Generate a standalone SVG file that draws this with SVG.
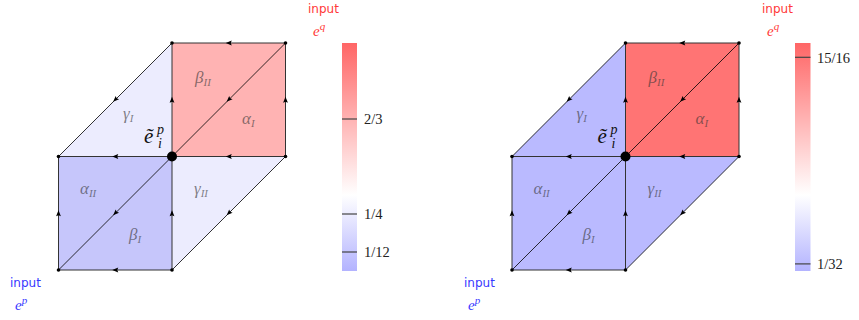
<svg xmlns="http://www.w3.org/2000/svg" width="859" height="320" viewBox="0 0 859 320">
<style>
.edge{fill:none;stroke:#333;stroke-width:1;marker-mid:url(#arr)}
.diag{fill:none;stroke:#000;stroke-width:0.8;marker-mid:url(#arr)}
.dot{fill:#000}
.lbl{font-family:'Liberation Serif',serif;font-style:italic;font-size:17px;fill:#333;fill-opacity:0.6}
.sub{font-size:11px}
.ep{font-family:'Liberation Serif',serif;font-style:italic;font-size:21px;fill:#111}
.tick{stroke:#444;stroke-width:1.2}
.tl{font-family:'Liberation Serif',serif;font-size:14.5px;fill:#222}
.in{font-family:'DejaVu Sans',sans-serif;font-size:12px}
.ev{font-family:'Liberation Serif',serif;font-style:italic;font-size:15px}
</style>
<defs>
<marker id="arr" markerUnits="userSpaceOnUse" markerWidth="8" markerHeight="8" viewBox="-4 -4 8 8" refX="0" refY="0" orient="auto">
<path d="M3,0 L-3,-2.4 L-2,0 L-3,2.4 Z" fill="#000"/>
</marker>
<linearGradient id="cb" x1="0" y1="0" x2="0" y2="1">
<stop offset="0" stop-color="#ff6666"/>
<stop offset="0.6667" stop-color="#ffffff"/>
<stop offset="1" stop-color="#b3b3ff"/>
</linearGradient>
</defs>

<!-- LEFT PANEL -->
<g id="panel-left" transform="translate(172,156.5)">
<g id="faces-left">
<path d="M0,0 L0,-113.5 L113.5,-113.5 L113.5,0 Z" fill="#ffb3b3"/>
<path d="M-113.5,0 L0,-113.5 L0,0 Z" fill="#ececfe"/>
<path d="M-113.5,0 L0,0 L0,113.5 L-113.5,113.5 Z" fill="#c6c6fb"/>
<path d="M0,0 L113.5,0 L0,113.5 Z" fill="#ececfe"/>
</g>
<g id="connectors-left">
<path class="edge" d="M113.5,-113.5 L56.75,-113.5 L0,-113.5"/>
<path class="edge" d="M113.5,0 L113.5,-56.75 L113.5,-113.5"/>
<path class="diag" d="M113.5,-113.5 L56.75,-56.75 L0,0"/>
<path class="edge" d="M0,0 L0,-56.75 L0,-113.5"/>
<path class="diag" d="M0,-113.5 L-56.75,-56.75 L-113.5,0"/>
<path class="edge" d="M113.5,0 L56.75,0 L0,0"/>
<path class="edge" d="M0,0 L-56.75,0 L-113.5,0"/>
<path class="edge" d="M-113.5,113.5 L-113.5,56.75 L-113.5,0"/>
<path class="diag" d="M0,0 L-56.75,56.75 L-113.5,113.5"/>
<path class="edge" d="M0,113.5 L0,56.75 L0,0"/>
<path class="diag" d="M113.5,0 L56.75,56.75 L0,113.5"/>
<path class="edge" d="M0,113.5 L-56.75,113.5 L-113.5,113.5"/>
</g>
<g id="L-n-top"><circle class="dot" cx="0" cy="-113.5" r="1.8"/></g>
<g id="L-n-topright"><circle class="dot" cx="113.5" cy="-113.5" r="1.8"/></g>
<g id="L-n-right"><circle class="dot" cx="113.5" cy="0" r="1.8"/></g>
<g id="L-n-left"><circle class="dot" cx="-113.5" cy="0" r="1.8"/></g>
<g id="L-n-bottomleft"><circle class="dot" cx="-113.5" cy="113.5" r="1.8"/></g>
<g id="L-n-bottom"><circle class="dot" cx="0" cy="113.5" r="1.8"/></g>
<g id="L-n-center"><circle class="dot" cx="0" cy="0" r="5"/>
<text class="ep" x="-28" y="-14">ẽ<tspan x="-15" y="-23" font-size="14">p</tspan><tspan x="-14" y="-9" font-size="14">i</tspan></text></g>
<text class="lbl" x="23" y="-74">β<tspan class="sub" dy="3">II</tspan></text>
<text class="lbl" x="70" y="-33">α<tspan class="sub" dy="3">I</tspan></text>
<text class="lbl" x="-49" y="-38">γ<tspan class="sub" dy="3">I</tspan></text>
<text class="lbl" x="-92" y="37">α<tspan class="sub" dy="3">II</tspan></text>
<text class="lbl" x="22" y="37">γ<tspan class="sub" dy="3">II</tspan></text>
<text class="lbl" x="-43" y="83">β<tspan class="sub" dy="3">I</tspan></text>
</g>

<!-- LEFT COLORBAR -->
<g id="colorbar-left">
<rect x="342" y="43" width="15" height="228" fill="url(#cb)"/>
<line class="tick" x1="342" y1="119" x2="357" y2="119"/>
<line class="tick" x1="342" y1="214" x2="357" y2="214"/>
<line class="tick" x1="342" y1="252" x2="357" y2="252"/>
<text class="tl" x="364" y="124">2/3</text>
<text class="tl" x="364" y="219">1/4</text>
<text class="tl" x="364" y="257">1/12</text>
</g>
<g id="input-q-left" fill="#ff3838">
<text class="in" x="308" y="13">input</text>
<text class="ev" x="313" y="36">e<tspan font-size="11" dy="-6">q</tspan></text>
</g>
<g id="input-p-left" fill="#3838ff">
<text class="in" x="10" y="287">input</text>
<text class="ev" x="15" y="310">e<tspan font-size="11" dy="-6">p</tspan></text>
</g>

<!-- RIGHT PANEL -->
<g id="panel-right" transform="translate(625.5,156.5)">
<g id="faces-right">
<path d="M0,0 L0,-113.5 L113.5,-113.5 L113.5,0 Z" fill="#ff7474"/>
<path d="M-113.5,0 L0,-113.5 L0,0 Z" fill="#babaff"/>
<path d="M-113.5,0 L0,0 L0,113.5 L-113.5,113.5 Z" fill="#babaff"/>
<path d="M0,0 L113.5,0 L0,113.5 Z" fill="#babaff"/>
</g>
<g id="connectors-right">
<path class="edge" d="M113.5,-113.5 L56.75,-113.5 L0,-113.5"/>
<path class="edge" d="M113.5,0 L113.5,-56.75 L113.5,-113.5"/>
<path class="diag" d="M113.5,-113.5 L56.75,-56.75 L0,0"/>
<path class="edge" d="M0,0 L0,-56.75 L0,-113.5"/>
<path class="diag" d="M0,-113.5 L-56.75,-56.75 L-113.5,0"/>
<path class="edge" d="M113.5,0 L56.75,0 L0,0"/>
<path class="edge" d="M0,0 L-56.75,0 L-113.5,0"/>
<path class="edge" d="M-113.5,113.5 L-113.5,56.75 L-113.5,0"/>
<path class="diag" d="M0,0 L-56.75,56.75 L-113.5,113.5"/>
<path class="edge" d="M0,113.5 L0,56.75 L0,0"/>
<path class="diag" d="M113.5,0 L56.75,56.75 L0,113.5"/>
<path class="edge" d="M0,113.5 L-56.75,113.5 L-113.5,113.5"/>
</g>
<g id="R-n-top"><circle class="dot" cx="0" cy="-113.5" r="1.8"/></g>
<g id="R-n-topright"><circle class="dot" cx="113.5" cy="-113.5" r="1.8"/></g>
<g id="R-n-right"><circle class="dot" cx="113.5" cy="0" r="1.8"/></g>
<g id="R-n-left"><circle class="dot" cx="-113.5" cy="0" r="1.8"/></g>
<g id="R-n-bottomleft"><circle class="dot" cx="-113.5" cy="113.5" r="1.8"/></g>
<g id="R-n-bottom"><circle class="dot" cx="0" cy="113.5" r="1.8"/></g>
<g id="R-n-center"><circle class="dot" cx="0" cy="0" r="5"/>
<text class="ep" x="-28" y="-14">ẽ<tspan x="-15" y="-23" font-size="14">p</tspan><tspan x="-14" y="-9" font-size="14">i</tspan></text></g>
<text class="lbl" x="23" y="-74">β<tspan class="sub" dy="3">II</tspan></text>
<text class="lbl" x="70" y="-33">α<tspan class="sub" dy="3">I</tspan></text>
<text class="lbl" x="-49" y="-38">γ<tspan class="sub" dy="3">I</tspan></text>
<text class="lbl" x="-92" y="37">α<tspan class="sub" dy="3">II</tspan></text>
<text class="lbl" x="22" y="37">γ<tspan class="sub" dy="3">II</tspan></text>
<text class="lbl" x="-43" y="83">β<tspan class="sub" dy="3">I</tspan></text>
</g>

<!-- RIGHT COLORBAR -->
<g id="colorbar-right">
<rect x="795" y="43" width="15.5" height="228" fill="url(#cb)"/>
<line class="tick" x1="795" y1="57.3" x2="810.5" y2="57.3"/>
<line class="tick" x1="795" y1="263.9" x2="810.5" y2="263.9"/>
<text class="tl" x="817" y="62.5">15/16</text>
<text class="tl" x="817" y="269">1/32</text>
</g>
<g id="input-q-right" fill="#ff3838">
<text class="in" x="762" y="13">input</text>
<text class="ev" x="767" y="36">e<tspan font-size="11" dy="-6">q</tspan></text>
</g>
<g id="input-p-right" fill="#3838ff">
<text class="in" x="464" y="287">input</text>
<text class="ev" x="468" y="310">e<tspan font-size="11" dy="-6">p</tspan></text>
</g>
</svg>
